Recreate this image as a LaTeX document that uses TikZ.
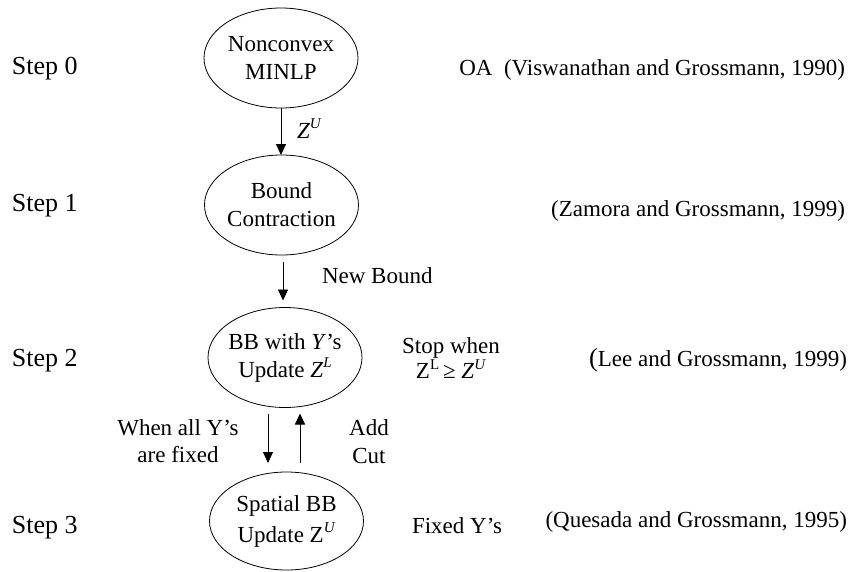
\documentclass[tikz,border=0pt]{standalone}
\usepackage{fontspec}
\setmainfont{Liberation Serif}
\usetikzlibrary{arrows.meta,shapes.geometric,calc}
\newcommand\supx[1]{\raisebox{0.42em}{\fontsize{15}{15}\selectfont #1}}
\newcommand\zsym[1]{\textit{Z}\supx{\textit{#1}}}
\begin{document}
\begin{tikzpicture}[x=1pt,y=-1pt,
  every node/.style={inner sep=0pt, outer sep=0pt},
  txt/.style={font=\fontsize{23}{27.5}\selectfont, align=center},
  steplbl/.style={font=\fontsize{26}{30}\selectfont, anchor=base west},
  cite/.style={font=\fontsize{23}{27}\selectfont, anchor=base east},
  ell/.style={draw, ellipse, line width=0.8pt, minimum width=154pt, minimum height=100pt,
    inner xsep=-10pt, inner ysep=0pt, font=\fontsize{23}{28}\selectfont, align=center},
  arr/.style={line width=0.8pt, -{Triangle[length=11pt,width=10pt]}}
]
\useasboundingbox (0,0) rectangle (852,571);

% ellipses
\node[ell] (e0) at (281,58) {Nonconvex\\MINLP};
\node[ell] (e1) at (281.5,205) {Bound\\Contraction};
\node[ell] (e2) at (285,357.5) {BB with \textit{Y}’s\\Update \zsym{L}};
\node[ell, minimum height=98pt] (e3) at (286.5,521) {Spatial BB\\[3pt]Update Z\supx{\textit{U}}};

% arrows
\draw[arr] (e0.south) -- (e0.south |- e1.north);
\draw[arr, shorten <=7pt, shorten >=7pt] ([xshift=1.5pt]e1.south) -- ([xshift=1.5pt]e1.south |- e2.north);
\draw[arr, shorten <=6pt, shorten >=9pt] ([xshift=-17pt]e2.south) -- ([xshift=-17pt]e2.south |- e3.north);
\draw[arr, shorten <=9pt, shorten >=6pt] ([xshift=15pt]e2.south |- e3.north) -- ([xshift=15pt]e2.south);

% arrow labels
\node[txt, anchor=base west] (zu) at (297,138) {\zsym{U}};
\node[txt, anchor=base west] (nb) at (322,283) {New Bound};
\node[txt, font=\fontsize{23}{23}\selectfont] (stop) at (451,358) {Stop when\\Z\supx{L}\,≥ \zsym{U}};
\node[txt, font=\fontsize{23}{27}\selectfont] (when) at (178,441) {When all Y’s\\are fixed};
\node[txt, font=\fontsize{23}{28}\selectfont] (add) at (369,441.5) {Add\\Cut};
\node[txt, anchor=base west] (fixed) at (412,533) {Fixed Y’s};

% step labels
\node[steplbl] (s0) at (12,74) {Step 0};
\node[steplbl] (s1) at (12,211.5) {Step 1};
\node[steplbl] (s2) at (12,366.5) {Step 2};
\node[steplbl] (s3) at (12,533) {Step 3};

% citations
\node[cite] (c0) at (845,75) {OA\ \ (Viswanathan and Grossmann, 1990)};
\node[cite] (c1) at (845,216) {(Zamora and Grossmann, 1999)};
\node[cite] (c2) at (847,366) {{\fontsize{26}{27}\selectfont(}Lee and Grossmann, 1999)};
\node[cite] (c3) at (847,527) {(Quesada and Grossmann, 1995)};
\end{tikzpicture}
\end{document}
